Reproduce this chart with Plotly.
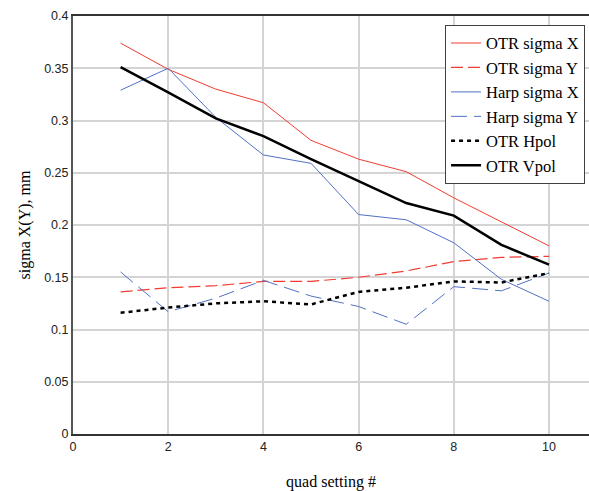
import plotly.graph_objects as go

quad = [1, 2, 3, 4, 5, 6, 7, 8, 9, 10]
otr_sigma_x = [0.374, 0.349, 0.330, 0.317, 0.281, 0.263, 0.251, 0.226, 0.203, 0.180]
otr_sigma_y = [0.136, 0.140, 0.142, 0.146, 0.146, 0.150, 0.156, 0.165, 0.169, 0.170]
harp_sigma_x = [0.329, 0.350, 0.303, 0.267, 0.259, 0.210, 0.205, 0.183, 0.148, 0.127]
harp_sigma_y = [0.155, 0.117, 0.130, 0.147, 0.132, 0.122, 0.105, 0.141, 0.137, 0.154]
otr_hpol = [0.116, 0.121, 0.125, 0.127, 0.124, 0.136, 0.140, 0.146, 0.145, 0.154]
otr_vpol = [0.351, 0.327, 0.302, 0.285, 0.263, 0.242, 0.221, 0.209, 0.181, 0.162]

RED = "#f03c32"
BLUE = "#5271c4"

fig = go.Figure()
fig.add_trace(go.Scatter(x=quad, y=otr_sigma_x, mode="lines", name="OTR sigma X",
                         line=dict(color=RED, width=1)))
fig.add_trace(go.Scatter(x=quad, y=otr_sigma_y, mode="lines", name="OTR sigma Y",
                         line=dict(color=RED, width=1.2, dash="12px,5px")))
fig.add_trace(go.Scatter(x=quad, y=harp_sigma_x, mode="lines", name="Harp sigma X",
                         line=dict(color=BLUE, width=1)))
fig.add_trace(go.Scatter(x=quad, y=harp_sigma_y, mode="lines", name="Harp sigma Y",
                         line=dict(color=BLUE, width=1, dash="16px,7px")))
fig.add_trace(go.Scatter(x=quad, y=otr_hpol, mode="lines", name="OTR Hpol",
                         line=dict(color="black", width=2.5, dash="4px,4px")))
fig.add_trace(go.Scatter(x=quad, y=otr_vpol, mode="lines", name="OTR Vpol",
                         line=dict(color="black", width=2.5)))

fig.update_layout(
    width=589, height=491,
    margin=dict(l=73, r=0, t=16, b=57),
    paper_bgcolor="white", plot_bgcolor="white",
    showlegend=True,
    legend=dict(x=0.721, y=0.979, xanchor="left", yanchor="top",
                bgcolor="white", bordercolor="#404040", borderwidth=1,
                font=dict(family="Liberation Serif", size=16.5, color="black"),
                tracegroupgap=0, itemwidth=30),
    xaxis=dict(range=[0, 10.84], tickvals=[0, 2, 4, 6, 8, 10],
               showgrid=True, gridcolor="#d4d4d4", gridwidth=1.5,
               showline=True, linecolor="#333333", linewidth=1.5, mirror=True,
               zeroline=False, ticks="",
               tickfont=dict(family="Liberation Sans", size=12.5, color="#222"),
               title=dict(text="quad setting #", standoff=23,
                          font=dict(family="Liberation Serif", size=16, color="black"))),
    yaxis=dict(range=[0, 0.4], tickvals=[0, 0.05, 0.1, 0.15, 0.2, 0.25, 0.3, 0.35, 0.4],
               ticktext=["0", "0.05", "0.1", "0.15", "0.2", "0.25", "0.3", "0.35", "0.4"],
               showgrid=True, gridcolor="#d4d4d4", gridwidth=1.5,
               showline=True, linecolor="#555555", linewidth=2,
               zeroline=False, ticks="",
               tickfont=dict(family="Liberation Sans", size=12.5, color="#222"),
               title=dict(text="sigma X(Y), mm", standoff=10,
                          font=dict(family="Liberation Serif", size=16, color="black"))),
)

fig.write_html("out.html")
